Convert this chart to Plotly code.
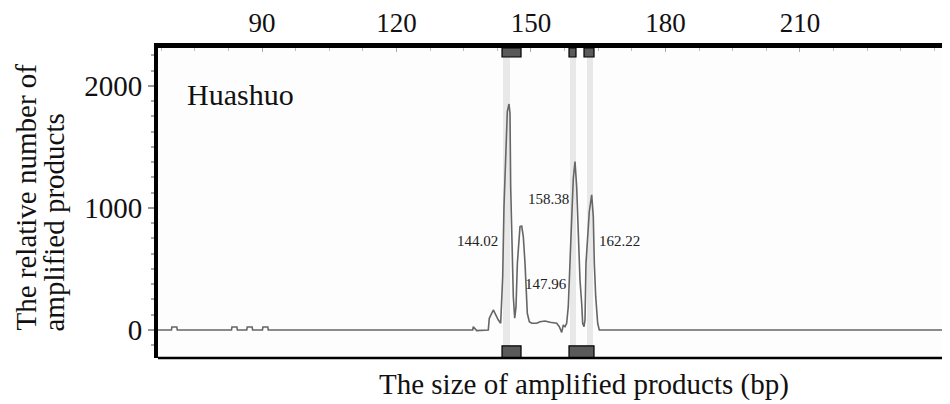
import plotly.graph_objects as go

# ---- data ----
size_bp = [66.8, 69.8, 69.9, 71.0, 71.1, 83.2, 83.3, 84.4, 84.5, 86.6, 86.7, 87.8, 87.9,
           90.1, 90.2, 91.3, 91.4, 137.0, 137.13, 137.89, 140.48, 140.70, 141.60, 141.97,
           142.35, 142.72, 143.24, 143.69, 143.98, 144.36, 144.72, 145.10, 145.32, 145.47,
           145.77, 146.06, 146.37, 146.66, 146.96, 147.26, 147.55, 147.93, 148.29, 148.67,
           148.89, 149.18, 149.63, 150.16, 151.28, 152.01, 153.13, 154.24, 155.73, 156.32,
           156.85, 157.21, 157.59, 157.96, 158.32, 158.70, 159.07, 159.44, 159.82, 160.19,
           160.56, 160.93, 161.31, 161.53, 161.83, 162.05, 162.27, 162.65, 163.01, 163.54,
           163.90, 164.13, 164.44, 164.88, 165.24, 243.5]
signal = [0, 0, 25, 25, 0, 0, 25, 25, 0, 0, 25, 25, 0,
          0, 25, 25, 0, 0, 27, -5, 0, 96, 164, 137,
          104, 82, 55, 437, 1011, 1448, 1790, 1852, 1776, 1175,
          710, 273, 96, 191, 546, 710, 847, 852, 765, 546,
          328, 137, 68, 55, 55, 68, 74, 63, 55, 27,
          -20, 41, 27, 55, 191, 492, 902, 1243, 1380, 1175,
          820, 410, 219, 55, 27, 82, 546, 820, 970, 1107,
          929, 546, 273, 55, 0, 0]

peak_labels = ["144.02", "147.96", "158.38", "162.22"]
peak_label_x = [137.96, 153.35, 153.80, 169.64]
peak_label_y = [732, 377, 1074, 730]

band_start = [143.76, 158.70, 162.49]
band_end = [145.32, 160.04, 163.83]
top_bin_start = [143.54, 158.48, 161.83]
top_bin_end = [147.78, 160.04, 164.06]
bottom_bin_start = [143.54, 158.48]
bottom_bin_end = [147.78, 164.06]

x_tick_vals = [90, 120, 150, 180, 210]
x_tick_text = ["90", "120", "150", "180", "210"]
y_tick_vals = [0, 1000, 2000]
y_tick_text = ["0", "1000", "2000"]

sample_name = "Huashuo"
x_title = "The size of amplified products (bp)"
y_title_lines = ["The relative number of", "amplified products"]

FONT = "Liberation Serif"

fig = go.Figure()
fig.add_trace(go.Scatter(x=size_bp, y=signal, mode="lines",
                         line=dict(color="#666666", width=1.6), hoverinfo="skip",
                         showlegend=False))

shapes = []
for a, b in zip(band_start, band_end):
    shapes.append(dict(type="rect", xref="x", yref="paper", x0=a, x1=b, y0=0, y1=1,
                       fillcolor="#e8e8e8", line=dict(width=0), layer="below"))
for a, b in zip(top_bin_start, top_bin_end):
    shapes.append(dict(type="rect", xref="x", yref="paper", x0=a, x1=b, y0=0.971, y1=1,
                       fillcolor="#5a5a5a", line=dict(color="black", width=1.2), layer="above"))
for a, b in zip(bottom_bin_start, bottom_bin_end):
    shapes.append(dict(type="rect", xref="x", yref="paper", x0=a, x1=b, y0=0, y1=0.039,
                       fillcolor="#5a5a5a", line=dict(color="black", width=1.2), layer="above"))
shapes.append(dict(type="line", xref="paper", yref="paper", x0=0, x1=1, y0=0, y1=0,
                   line=dict(color="black", width=2.5), layer="above"))

annotations = []
for t, x, y in zip(peak_labels, peak_label_x, peak_label_y):
    annotations.append(dict(text=t, x=x, y=y, xref="x", yref="y", showarrow=False,
                            font=dict(family=FONT, size=15, color="#222222")))
annotations.append(dict(text=sample_name, x=72.82, y=1930, xref="x", yref="y",
                        xanchor="left", yanchor="middle", showarrow=False,
                        font=dict(family=FONT, size=30, color="#111111")))
annotations.append(dict(text=x_title, x=0.538, y=-0.084, xref="paper", yref="paper",
                        xanchor="center", yanchor="middle", showarrow=False,
                        font=dict(family=FONT, size=29, color="#111111")))
for t, xp in zip(y_title_lines, [-0.1679, -0.1307]):
    annotations.append(dict(text=t, x=xp, y=0.0806, xref="paper", yref="paper",
                            xanchor="center", yanchor="bottom", textangle=-90,
                            showarrow=False,
                            font=dict(family=FONT, size=29, color="#111111")))

# the page body adds an 8px offset, so the figure is 8px smaller and shifted
fig.update_layout(
    width=942, height=396,
    margin=dict(l=150, r=0, t=40, b=46, autoexpand=False),
    paper_bgcolor="white", plot_bgcolor="#fdfdfd",
    shapes=shapes, annotations=annotations, showlegend=False,
    xaxis=dict(range=[66.8, 243.47], side="top", showgrid=False, zeroline=False,
               automargin=False,
               showline=True, linecolor="black", linewidth=5,
               tickvals=x_tick_vals, ticktext=x_tick_text,
               ticks="inside", ticklen=4, tickcolor="#aaaaaa", tickwidth=1,
               minor=dict(dtick=7.5, tick0=90, ticks="inside", ticklen=3,
                          tickcolor="#bbbbbb", showgrid=False),
               tickfont=dict(family=FONT, size=27, color="#111111"),
               fixedrange=True),
    yaxis=dict(range=[-229.5, 2311], showgrid=False, zeroline=False,
               automargin=False,
               showline=True, linecolor="black", linewidth=4,
               tickvals=y_tick_vals, ticktext=y_tick_text,
               ticks="outside", ticklen=6, tickcolor="#999999", tickwidth=1.5,
               minor=dict(dtick=125, tick0=0, ticks="outside", ticklen=3,
                          tickcolor="#aaaaaa", showgrid=False),
               tickfont=dict(family=FONT, size=29, color="#111111"),
               fixedrange=True),
)

fig.write_html("out.html")
